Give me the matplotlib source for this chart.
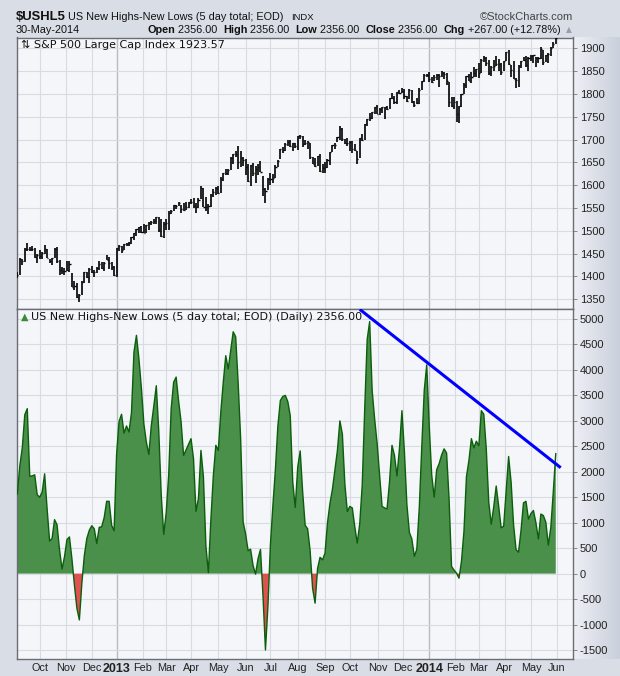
import numpy as np
import pandas as pd
import matplotlib
matplotlib.use("Agg")
import matplotlib.pyplot as plt
from matplotlib.collections import LineCollection

# ---------------- data ----------------
holidays = ['2012-09-03', '2012-10-29', '2012-10-30', '2012-11-22', '2012-12-25',
            '2013-01-01', '2013-01-21', '2013-02-18', '2013-03-29', '2013-05-27',
            '2013-07-04', '2013-09-02', '2013-11-28', '2013-12-25', '2014-01-01',
            '2014-01-20', '2014-02-17', '2014-04-18', '2014-05-26']
first_bar = '2012-09-05'
last_bar = '2014-05-30'

# US New Highs-New Lows (5 day total), every second session from 2012-09-05
nhnl = [1560, 2120, 2475, 3120, 3240, 1910, 1920, 1940, 1550,
        1500, 1600, 1960, 1270, 640, 690, 1060, 960, 470, 90, 330,
        670, 720, 290, -225, -680, -910, -190, 355, 690, 850, 940,
        880, 590, 910, 920, 1100, 1420, 1420, 950, 840, 2340, 2990,
        3130, 2760, 2900, 2780, 3160, 4350, 4680, 4220, 3640, 2940, 2580,
        2340, 2910, 3290, 3690, 2800, 1540, 770, 1200, 1940, 3240, 3760,
        3860, 3390, 2980, 2320, 2430, 2540, 2650, 2260, 1220, 1480, 2420,
        1900, 540, 20, 1060, 1930, 2520, 2420, 3170, 3760, 4280, 4020,
        4380, 4750, 4650, 3740, 2650, 1010, 780, 450, 480, 160, -10,
        290, 475, -430, -1500, -640, 570, 1340, 2040, 2900, 3400, 3480,
        3500, 3380, 3100, 1800, 1300, 2090, 2410, 1600, 950, 880, 450,
        -290, -580, 100, 320, 270, 400, 1000, 1380, 1660, 2040, 2420,
        3000, 2740, 1760, 1220, 1320, 1290, 920, 600, 980, 1740, 3230,
        4600, 4950, 3600, 3040, 2560, 1950, 1320, 1290, 1270, 1800, 2520,
        2320, 1920, 2450, 3200, 2400, 1360, 810, 680, 340, 480, 1300,
        2490, 3600, 4100, 2900, 1940, 1500, 2040, 2160, 2330, 2450, 2370,
        1470, 140, 70, 10, -90, 240, 830, 1900, 2220, 2650, 2470,
        2600, 2510, 3200, 3130, 2450, 1400, 970, 1310, 1720, 1320, 900,
        930, 1600, 2300, 1800, 960, 470, 420, 850, 1390, 1420, 1070,
        1180, 1240, 1000, 680, 1170, 1140, 1010, 560, 900, 1600, 2356]

# S&P 500 bars (two-session bars), same dates
spx_close = [1403.4, 1437.9, 1433.6, 1460.0, 1461.2, 1461.1, 1460.2, 1441.6, 1447.2,
             1444.5, 1451.0, 1460.9, 1441.5, 1432.8, 1440.1, 1460.9, 1433.2, 1413.1, 1413.0, 1412.2,
             1414.2, 1428.4, 1377.5, 1380.0, 1355.5, 1359.9, 1387.8, 1409.2, 1398.9, 1416.0, 1409.5,
             1409.3, 1418.1, 1427.8, 1419.5, 1430.4, 1435.8, 1430.2, 1419.8, 1402.4, 1462.4, 1466.5,
             1457.2, 1472.1, 1470.7, 1472.6, 1486.0, 1494.8, 1503.0, 1507.8, 1498.1, 1495.7, 1512.1,
             1517.9, 1519.4, 1521.4, 1530.9, 1502.4, 1487.9, 1516.0, 1518.2, 1539.8, 1544.3, 1556.2,
             1554.5, 1560.7, 1548.3, 1545.8, 1551.7, 1562.9, 1562.2, 1553.7, 1553.3, 1568.6, 1593.4,
             1552.4, 1552.0, 1555.3, 1578.8, 1585.2, 1593.6, 1582.7, 1614.4, 1626.0, 1626.7, 1633.8,
             1658.8, 1667.5, 1669.2, 1650.5, 1660.1, 1654.4, 1640.4, 1608.9, 1643.4, 1626.1, 1636.4,
             1639.0, 1628.9, 1592.4, 1588.0, 1613.2, 1614.1, 1615.4, 1640.5, 1652.6, 1680.2, 1676.3,
             1689.4, 1695.5, 1685.9, 1691.7, 1686.0, 1706.9, 1707.1, 1690.9, 1691.4, 1694.2, 1661.3,
             1646.1, 1642.8, 1663.5, 1630.5, 1638.2, 1639.8, 1655.1, 1671.7, 1689.1, 1688.0, 1704.8,
             1722.3, 1701.8, 1692.8, 1691.8, 1695.0, 1678.7, 1676.1, 1656.4, 1703.2, 1698.1, 1733.2,
             1744.7, 1746.4, 1759.8, 1772.0, 1756.5, 1767.9, 1770.5, 1770.6, 1767.7, 1790.6, 1791.5,
             1781.4, 1804.8, 1802.8, 1805.8, 1795.2, 1785.0, 1808.4, 1782.2, 1775.3, 1781.0, 1809.6,
             1828.0, 1842.0, 1841.1, 1832.0, 1826.8, 1837.5, 1842.4, 1838.9, 1845.9, 1843.8, 1828.5,
             1781.6, 1774.2, 1782.6, 1755.2, 1773.4, 1799.8, 1819.3, 1838.6, 1828.8, 1836.3, 1845.1,
             1854.3, 1845.7, 1873.8, 1878.0, 1867.6, 1846.3, 1858.8, 1860.8, 1866.5, 1865.6, 1849.0,
             1872.3, 1890.9, 1865.1, 1852.0, 1833.1, 1830.6, 1862.3, 1871.9, 1875.4, 1863.4, 1878.3,
             1883.7, 1884.7, 1878.2, 1878.5, 1897.5, 1870.9, 1885.1, 1888.0, 1900.5, 1909.8, 1923.6]
spx_high = [1409, 1440, 1438, 1463, 1474, 1465, 1467, 1463, 1450,
            1457, 1454, 1470, 1460, 1439, 1441, 1462, 1464, 1437, 1421, 1418,
            1434, 1433, 1408, 1391, 1385, 1362, 1389, 1409, 1410, 1419, 1424,
            1415, 1420, 1434, 1431, 1431, 1448, 1443, 1431, 1423, 1462, 1468,
            1466, 1472, 1474, 1475, 1486, 1496, 1503, 1509, 1510, 1514, 1513,
            1519, 1522, 1525, 1531, 1530, 1525, 1520, 1525, 1543, 1546, 1557,
            1557, 1564, 1557, 1561, 1564, 1564, 1570, 1573, 1562, 1573, 1598,
            1593, 1575, 1558, 1580, 1592, 1597, 1598, 1619, 1626, 1635, 1636,
            1661, 1668, 1674, 1687, 1674, 1661, 1658, 1646, 1645, 1648, 1641,
            1647, 1654, 1620, 1593, 1616, 1626, 1624, 1644, 1656, 1680, 1684,
            1693, 1698, 1698, 1692, 1693, 1707, 1710, 1708, 1700, 1696, 1693,
            1661, 1659, 1664, 1669, 1646, 1651, 1658, 1672, 1689, 1693, 1706,
            1730, 1726, 1702, 1704, 1696, 1697, 1691, 1675, 1704, 1712, 1734,
            1746, 1759, 1760, 1772, 1775, 1769, 1771, 1771, 1773, 1791, 1803,
            1795, 1805, 1808, 1813, 1810, 1796, 1811, 1808, 1785, 1792, 1813,
            1829, 1843, 1844, 1849, 1838, 1841, 1844, 1843, 1850, 1849, 1846,
            1826, 1794, 1794, 1784, 1774, 1800, 1823, 1839, 1843, 1847, 1858,
            1855, 1868, 1876, 1883, 1882, 1874, 1862, 1875, 1884, 1876, 1867,
            1873, 1893, 1897, 1864, 1873, 1835, 1863, 1872, 1880, 1884, 1880,
            1886, 1885, 1882, 1881, 1902, 1897, 1886, 1889, 1902, 1914, 1924]
spx_low = [1396, 1403, 1425, 1432, 1456, 1455, 1456, 1441, 1430,
           1438, 1439, 1450, 1441, 1430, 1425, 1441, 1430, 1403, 1405, 1403,
           1412, 1410, 1377, 1371, 1353, 1343, 1360, 1385, 1397, 1385, 1408,
           1398, 1407, 1415, 1416, 1411, 1435, 1416, 1414, 1401, 1398, 1455,
           1451, 1457, 1466, 1466, 1472, 1481, 1489, 1496, 1496, 1495, 1495,
           1502, 1513, 1514, 1515, 1497, 1487, 1485, 1502, 1502, 1536, 1543,
           1547, 1555, 1538, 1543, 1546, 1551, 1558, 1550, 1539, 1549, 1570,
           1552, 1544, 1536, 1553, 1575, 1578, 1581, 1583, 1610, 1623, 1623,
           1633, 1647, 1661, 1636, 1640, 1641, 1622, 1606, 1598, 1621, 1604,
           1623, 1628, 1577, 1560, 1589, 1601, 1605, 1615, 1640, 1658, 1671,
           1675, 1686, 1684, 1676, 1681, 1678, 1701, 1684, 1688, 1680, 1658,
           1646, 1640, 1641, 1630, 1627, 1627, 1637, 1645, 1672, 1679, 1694,
           1700, 1697, 1690, 1687, 1675, 1670, 1674, 1647, 1660, 1697, 1699,
           1730, 1740, 1745, 1757, 1755, 1753, 1758, 1746, 1764, 1767, 1789,
           1779, 1779, 1800, 1803, 1788, 1783, 1788, 1780, 1772, 1777, 1779,
           1809, 1827, 1838, 1827, 1823, 1829, 1830, 1815, 1838, 1832, 1820,
           1772, 1771, 1768, 1738, 1737, 1771, 1800, 1812, 1828, 1825, 1838,
           1838, 1834, 1846, 1870, 1862, 1842, 1839, 1851, 1862, 1851, 1842,
           1850, 1873, 1864, 1837, 1832, 1814, 1816, 1856, 1872, 1860, 1851,
           1872, 1868, 1860, 1867, 1877, 1863, 1869, 1868, 1883, 1900, 1909]

trend_dates = ['2013-10-11', '2014-06-05']
trend_values = [5190, 2080]

spx_ticks = list(range(1350, 1901, 50))
nhnl_ticks = list(range(-1500, 5001, 500))

# ---------------- trading calendar / x scale ----------------
all_days = pd.bdate_range('2012-09-04', '2014-06-30')
sessions = all_days[~all_days.isin(pd.to_datetime(holidays))]
bar_dates = sessions[(sessions >= first_bar) & (sessions <= last_bar)][::2]
n = min(len(bar_dates), len(nhnl), len(spx_close))
x = sessions.get_indexer(bar_dates[:n]).astype(float)
v = np.array(nhnl[:n], dtype=float)
c = np.array(spx_close[:n]); hi = np.array(spx_high[:n]); lo = np.array(spx_low[:n])

month_pos, month_lab, month_year = [], [], []
for m in pd.date_range('2012-10-01', '2014-06-01', freq='MS'):
    month_pos.append(sessions.searchsorted(m))
    if m.month == 1:
        month_lab.append(str(m.year)); month_year.append(True)
    else:
        month_lab.append(m.strftime('%b')); month_year.append(False)

trend_x = [sessions.searchsorted(pd.Timestamp(d)) for d in trend_dates]

# ---------------- figure ----------------
W, H = 620, 676
fig = plt.figure(figsize=(W / 100, H / 100), dpi=100, facecolor='#d9dde6')

# right-side gradient strip
gax = fig.add_axes([573 / W, 17 / H, 47 / W, (H - 54) / H], zorder=0)
grad = np.linspace(0, 1, 64)[None, :]
gax.imshow(grad, aspect='auto', cmap=matplotlib.colors.LinearSegmentedColormap.from_list(
    'g', ['#eef0f5', '#c9cfdb']), extent=[0, 1, 0, 1])
gax.axis('off')

L, R = 16.6 / W, 573 / W
ax1 = fig.add_axes([L, 1 - 309 / H, R - L, (309 - 37.5) / H], zorder=2)
ax2 = fig.add_axes([L, 1 - 659 / H, R - L, (659 - 309) / H], zorder=2)

xlim = (0.4, 448.9)
for ax in (ax1, ax2):
    ax.set_facecolor('#f5f6fa')
    ax.set_xlim(*xlim)
    for p, yr in zip(month_pos, month_year):
        ax.axvline(p, color='#b9bbc3' if yr else '#d9dbe2', lw=1.0 if yr else 0.8, zorder=0)
    for s in ax.spines.values():
        s.set_color('#6a6d75'); s.set_linewidth(1.0)
    ax.yaxis.tick_right()
    ax.tick_params(axis='y', direction='out', length=3, width=0.6, color='#777777',
                   labelsize=8, pad=2, labelcolor='#222222')

# ---- top panel: S&P 500 OHLC ----
ax1.set_ylim(1328.7, 1923.7)
ax1.set_yticks(spx_ticks)
ax1.set_yticklabels([str(t) for t in spx_ticks], family='Liberation Sans', fontsize=8)
for t in spx_ticks:
    ax1.axhline(t, color='#d9dbe2', lw=0.8, zorder=0)
ax1.set_xticks([])
ax1.vlines(x, lo, hi, color='black', lw=1.2, zorder=3)
segs = [[(xi, ci), (xi + 0.9, ci)] for xi, ci in zip(x, c)]
ax1.add_collection(LineCollection(segs, colors='black', lw=1.0, zorder=3))
ax1.text(0.008, 0.992, '⇅ S&P 500 Large Cap Index 1923.57', transform=ax1.transAxes,
         va='top', ha='left', fontsize=8, family='DejaVu Sans', color='#111111', zorder=5)

# ---- bottom panel: NH-NL area ----
ax2.set_ylim(-1677, 5197)
ax2.set_yticks(nhnl_ticks)
ax2.set_yticklabels([str(t) for t in nhnl_ticks], family='Liberation Sans', fontsize=8)
for t in nhnl_ticks:
    ax2.axhline(t, color='#d9dbe2', lw=0.8, zorder=0)
ax2.fill_between(x, 0, v, where=v >= 0, interpolate=True, color='#4a8f4a', lw=0, zorder=2)
ax2.fill_between(x, 0, v, where=v <= 0, interpolate=True, color='#e05252', lw=0, zorder=2)
ax2.plot(x, v, color='#0b5e0b', lw=1.0, zorder=3)
ax2.plot(trend_x, trend_values, color='#0000ff', lw=2.2, zorder=4, solid_capstyle='butt')
ax2.text(0.007, 0.992, '▲', transform=ax2.transAxes, va='top', ha='left', fontsize=7,
         family='DejaVu Sans', color='#3a8a3a', zorder=5)
ax2.text(0.026, 0.992, 'US New Highs-New Lows (5 day total; EOD) (Daily) 2356.00',
         transform=ax2.transAxes, va='top', ha='left', fontsize=8, family='DejaVu Sans',
         color='#111111', zorder=5)

ax2.set_xticks(month_pos)
ax2.set_xticklabels(month_lab)
ax2.tick_params(axis='x', length=0, pad=3)
for lab, yr in zip(ax2.get_xticklabels(), month_year):
    lab.set_family('Liberation Sans')
    lab.set_color('#222222')
    if yr:
        lab.set_fontweight('bold'); lab.set_fontsize(9)
    else:
        lab.set_fontsize(7.8)

# ---------------- header ----------------
fig.canvas.draw()
rend = fig.canvas.get_renderer()


def row(x_px, y_px, pieces):
    xx = x_px
    for s, wt, sz, col in pieces:
        t = fig.text(xx / W, 1 - y_px / H, s, fontsize=sz, fontweight=wt, color=col,
                     va='baseline', ha='left', family='Liberation Sans')
        xx += t.get_window_extent(renderer=rend).width
    return xx


row(15.5, 20, [('$USHL5', 'bold', 9.4, '#111111')])
row(68, 20, [('US New Highs-New Lows (5 day total; EOD)', 'normal', 7.8, '#111111')])
row(291, 20, [('INDX', 'normal', 6.8, '#111111')])
fig.text(573 / W, 1 - 19.5 / H, '©StockCharts.com', fontsize=8, color='#444444',
         va='baseline', ha='right', family='Liberation Sans')
row(16, 33, [('30-May-2014', 'normal', 7.8, '#111111')])
sz = 7.8
row(147, 33, [('Open', 'bold', sz, '#111111'), (' 2356.00  ', 'normal', sz, '#111111'),
              ('High', 'bold', sz, '#111111'), (' 2356.00  ', 'normal', sz, '#111111'),
              ('Low', 'bold', sz, '#111111'), (' 2356.00  ', 'normal', sz, '#111111'),
              ('Close', 'bold', sz, '#111111'), (' 2356.00  ', 'normal', sz, '#111111'),
              ('Chg', 'bold', sz, '#111111'), (' +267.00 (+12.78%)', 'normal', sz, '#111111')])
fig.text(566 / W, 1 - 32.5 / H, '▲', fontsize=5.5, color='#9a9ea8', va='baseline', ha='left',
         family='DejaVu Sans')

fig.savefig('out.png', dpi=100, facecolor=fig.get_facecolor())
